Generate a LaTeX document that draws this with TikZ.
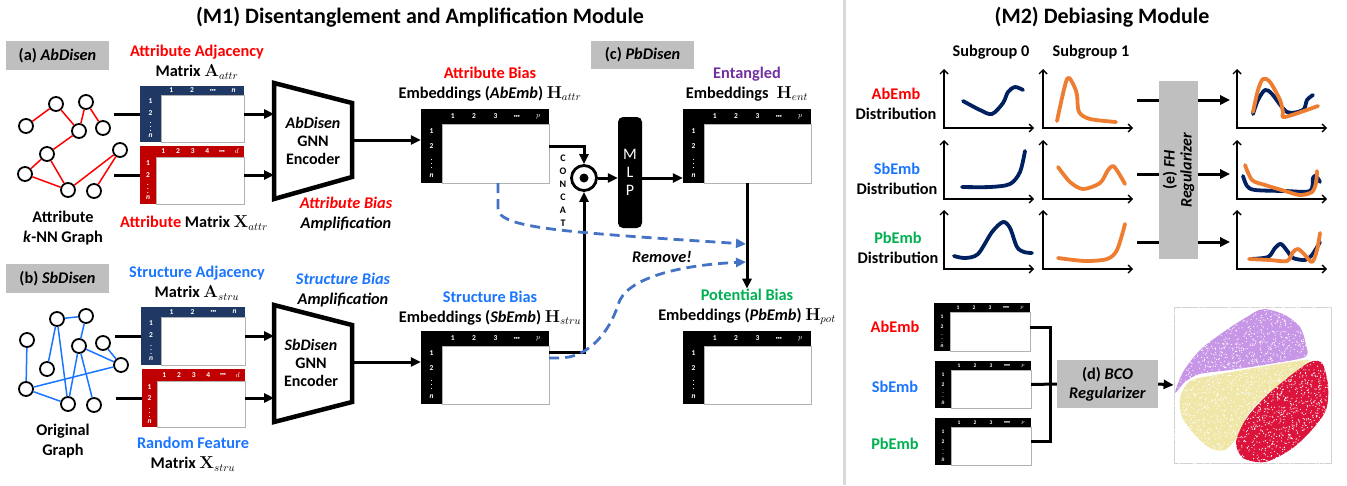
\documentclass[tikz,border=0pt]{standalone}
\usepackage[no-math]{fontspec}
\setmainfont{Carlito}
\usetikzlibrary{arrows.meta,positioning,fit,calc}

\definecolor{attrred}{HTML}{FF0000}
\definecolor{strublue}{HTML}{1A75FF}
\definecolor{potgreen}{HTML}{00B050}
\definecolor{entpurple}{HTML}{7030A0}
\definecolor{navyhead}{HTML}{203864}
\definecolor{redhead}{HTML}{C00000}
\definecolor{boxgray}{HTML}{BFBFBF}
\definecolor{dashblue}{HTML}{4472C4}
\definecolor{curvenavy}{HTML}{002060}
\definecolor{curveorange}{HTML}{ED7D31}
\definecolor{tsnepurple}{HTML}{C896E6}
\definecolor{tsneyellow}{HTML}{EFE6A8}
\definecolor{tsnered}{HTML}{DC143C}

\tikzset{
  lbl/.style={font=\fontsize{16.3}{20}\selectfont\bfseries, align=center, inner sep=0pt},
  ilbl/.style={lbl, font=\fontsize{16.3}{20}\selectfont\bfseries\itshape},
  titlelbl/.style={font=\fontsize{22}{26}\selectfont\bfseries, inner sep=0pt},
  tagbox/.style={fill=boxgray, font=\fontsize{16.3}{19}\selectfont\bfseries, align=center, inner sep=0pt},
  gnode/.style={circle, draw, fill=white, line width=1.8pt, minimum size=14pt, inner sep=0pt},
  matnum/.style={text=white, font=\fontsize{7.5}{8}\selectfont\bfseries, inner sep=0pt},
  flow/.style={line width=3pt, -{Triangle[length=10pt,width=9pt]}},
  plainline/.style={line width=3pt},
  encoder/.style={line width=4.5pt, line join=miter},
  rmv/.style={dashblue, line width=2.8pt, dash pattern=on 10pt off 6pt, -{Triangle[length=10pt,width=9pt]}},
  axes/.style={line width=1.4pt, {Straight Barb[length=4pt,width=8pt]}-{Straight Barb[length=4pt,width=8pt]}},
  dist/.style={line width=3.8pt, line cap=round, line join=round},
}

\newcommand{\hdots}{{\fontsize{4}{4}\selectfont\textbullet\textbullet\textbullet}}

% name, x1, y1, x2, y2, header colour, header height, left width, column labels
\newcommand{\embmat}[9]{%
  \node[fit={(#2,#3) (#4,#5)}, inner sep=0pt, fill=#6] (#1) {};
  \filldraw[fill=white, draw=gray!60, line width=0.8pt] (#2+#8,#3+#7) rectangle (#4,#5);
  \foreach \lab [count=\k] in {#9} {\xdef\ncols{\k}}
  \foreach \lab [count=\k] in {#9} {
    \pgfmathsetmacro\cx{#2+#8+(\k-0.5)*(#4-#2-#8)/\ncols}
    \node[matnum] at (\cx,#3+#7/2) {\lab};}
  \foreach \lab [count=\k] in {1,2,$\vdots$,\textit{n}} {
    \pgfmathsetmacro\cy{#3+#7+(\k-0.5)*(#5-#3-#7)/4}
    \node[matnum] at (#2+#8/2,\cy) {\lab};}
}

\begin{document}
\begin{tikzpicture}[x=1pt, y=-1pt]
\useasboundingbox (0,0) rectangle (1347,485);

% titles and separator
\node[titlelbl] (m1title) at (420,17) {(M1) Disentanglement and Amplification Module};
\node[titlelbl] (m2title) at (1102,17) {(M2) Debiasing Module};
\fill[gray!30] (843,0) rectangle (846,485);

\node[tagbox, minimum width=103pt, minimum height=29pt] (taga) at (57.5,55.5) {(a) \textit{AbDisen}};
\node[tagbox, minimum width=103pt, minimum height=29pt] (tagb) at (57.5,278.5) {(b) \textit{SbDisen}};
\node[tagbox, minimum width=103pt, minimum height=28pt] (tagc) at (642.5,55) {(c) \textit{PbDisen}};

% attribute k-NN graph
\foreach \n/\x/\y in {a1/26/126, a2/56/104, a3/86/102, a4/79/131, a5/103/128,
    a6/47/154, a7/120/150, a8/25/174, a9/68/190, a10/94/191}
  \node[gnode] (\n) at (\x,\y) {};
\foreach \s/\t in {a1/a2, a2/a4, a3/a4, a3/a5, a4/a6, a6/a8, a6/a9, a8/a9, a9/a7, a7/a10}
  \draw[attrred, line width=1.5pt] (\s) -- (\t);
\node[lbl] (glaba) at (63,228) {Attribute\\\textit{k}-NN Graph};

% original graph
\foreach \n/\x/\y in {b1/27/340, b2/57/319, b3/86/316, b4/79/346, b5/103/343,
    b6/47/369, b7/121/365, b8/26/389, b9/68/404, b10/94/405}
  \node[gnode] (\n) at (\x,\y) {};
\foreach \s/\t in {b1/b8, b2/b3, b2/b6, b2/b9, b3/b4, b4/b9, b4/b7, b5/b7, b4/b10, b8/b7, b8/b9}
  \draw[strublue, line width=1.5pt] (\s) -- (\t);
\node[lbl] (glabb) at (63,441) {Original\\Graph};

% input matrices
\embmat{aattr}{140}{86}{244}{142}{navyhead}{9}{21}{1,2,\hdots,\textit{n}}
\embmat{xattr}{140}{146}{244}{204}{redhead}{11}{16}{1,2,3,4,\hdots,$d$}
\embmat{astru}{141}{307}{245}{365}{navyhead}{10}{20}{1,2,\hdots,\textit{n}}
\embmat{xstru}{142}{369}{245}{427}{redhead}{12}{15}{1,2,3,4,\hdots,$d$}
\node[lbl] (aattrlab) at (197,62) {\textcolor{attrred}{Attribute Adjacency}\\Matrix $\mathbf{A}_{attr}$};
\node[lbl] (xattrlab) at (194,223) {\textcolor{attrred}{Attribute} Matrix $\mathbf{X}_{attr}$};
\node[lbl] (astrulab) at (197,283) {\textcolor{strublue}{Structure Adjacency}\\Matrix $\mathbf{A}_{stru}$};
\node[lbl] (xstrulab) at (193,454) {\textcolor{strublue}{Random Feature}\\Matrix $\mathbf{X}_{stru}$};

% encoders
\coordinate (ea1) at (274,83); \coordinate (ea2) at (352,103);
\coordinate (ea3) at (352,177); \coordinate (ea4) at (274,199);
\draw[encoder] (ea1) -- (ea2) -- (ea3) -- (ea4) -- cycle;
\node[lbl, font=\fontsize{16}{18}\selectfont\bfseries] (enca) at (313,141) {\textit{AbDisen}\\GNN\\Encoder};
\coordinate (eb1) at (274,305); \coordinate (eb2) at (352,325);
\coordinate (eb3) at (352,402); \coordinate (eb4) at (274,422);
\draw[encoder] (eb1) -- (eb2) -- (eb3) -- (eb4) -- cycle;
\node[lbl, font=\fontsize{16}{18}\selectfont\bfseries] (encb) at (311,363) {\textit{SbDisen}\\GNN\\Encoder};
\node[ilbl] (ampa) at (346,214) {\textcolor{attrred}{Attribute Bias}\\Amplification};
\node[ilbl] (ampb) at (343,290) {\textcolor{strublue}{Structure Bias}\\Amplification};

\foreach \m in {aattr, xattr, astru, xstru} {
  \draw[plainline] ([xshift=-26pt]\m.west) -- (\m.west);
}
\draw[flow] (aattr.east) -- (aattr.east -| ea1);
\draw[flow] (xattr.east) -- (xattr.east -| ea1);
\draw[flow] (astru.east) -- (astru.east -| eb1);
\draw[flow] (xstru.east) -- (xstru.east -| eb1);

% embeddings
\embmat{ha}{421}{109}{549}{183}{black}{15}{21}{1,2,3,\hdots,$p$}
\embmat{hs}{421}{331}{549}{404}{black}{15}{21}{1,2,3,\hdots,$p$}
\embmat{he}{683}{109}{811}{183}{black}{15}{21}{1,2,3,\hdots,$p$}
\embmat{hp}{683}{331}{811}{404}{black}{15}{21}{1,2,3,\hdots,$p$}
\node[lbl] (halab) at (490,84) {\textcolor{attrred}{Attribute Bias}\\Embeddings (\textit{AbEmb}) $\mathbf{H}_{attr}$};
\node[lbl] (hslab) at (490,308) {\textcolor{strublue}{Structure Bias}\\Embeddings (\textit{SbEmb}) $\mathbf{H}_{stru}$};
\node[lbl] (helab) at (747,84) {\textcolor{entpurple}{Entangled}\\Embeddings\enspace$\mathbf{H}_{ent}$};
\node[lbl] (hplab) at (747,307) {\textcolor{potgreen}{Potential Bias}\\Embeddings (\textit{PbEmb}) $\mathbf{H}_{pot}$};

\coordinate (eaout) at (352,140);
\coordinate (ebout) at (352,362);
\draw[flow] (eaout) -- (eaout -| ha.west);
\draw[flow] (ebout) -- (ebout -| hs.west);

% concat and MLP
\node[circle, draw, line width=2.8pt, minimum size=25pt, inner sep=0pt] (cat) at (584,178) {};
\fill (cat.center) circle (4.5);
\node[font=\fontsize{10}{13}\selectfont\bfseries, align=center, inner sep=0pt] (catlab) at (563,191) {C\\O\\N\\C\\A\\T};
\node[fill=black, rounded corners=5pt, minimum width=24pt, minimum height=111pt, text=white,
  align=center, font=\fontsize{16}{18}\selectfont] (mlp) at (630,172.5) {M\\L\\P};
\draw[flow] (ha.east) -| (cat.north);
\draw[flow] ($(hs.north east)!0.3!(hs.south east)$) -| (cat.south);
\draw[flow] (cat.east) -- (cat.east -| mlp.west);
\draw[flow] (mlp.east |- cat) -- (he.west |- cat);
\draw[flow] (he.south) -- (hplab.north);

% removal
\coordinate (rm1) at (746,244);
\coordinate (rm2) at (746,262);
\draw[rmv] ([xshift=13pt]ha.south) -- ++(0,25) .. controls (498,228) and (560,232) .. (rm1);
\draw[rmv] ($(hs.north east)!0.37!(hs.south east)$) -- ++(10,0) .. controls (590,358) and (610,330) .. (618,305)
  .. controls (625,278) and (680,265) .. (rm2);
\node[ilbl] (rmvlab) at (662,257) {Remove!};

% M2: distributions
\node[lbl] (sg0) at (991,52) {Subgroup 0};
\node[lbl] (sg1) at (1091,52) {Subgroup 1};
\node[lbl] (dab) at (896,104) {\textcolor{attrred}{AbEmb}\\Distribution};
\node[lbl] (dsb) at (897,179) {\textcolor{strublue}{SbEmb}\\Distribution};
\node[lbl] (dpb) at (898,248) {\textcolor{potgreen}{PbEmb}\\Distribution};
\foreach \oy in {128,199,269}
  \foreach \ox in {944,1043,1237}
    \draw[axes] (\ox,\oy-59) -- (\ox,\oy) -- (\ox+90,\oy);

\draw[dist, curvenavy] plot[smooth] coordinates {(963,101) (980,110) (992,114) (1003,103) (1008,92) (1015,87) (1023,90)};
\draw[dist, curveorange] plot[smooth] coordinates {(1057,121) (1067,79) (1074,86) (1077,95) (1079,112) (1090,119) (1116,122)};
\draw[dist, curvenavy] plot[smooth] coordinates {(962,187) (990,187) (1010,184) (1020,172) (1025,151)};
\draw[dist, curveorange] plot[smooth] coordinates {(1058,167) (1070,182) (1083,189) (1100,183) (1108,170) (1113,166) (1118,172) (1125,184)};
\draw[dist, curvenavy] plot[smooth] coordinates {(954,256) (965,258) (978,254) (992,232) (1003,222) (1010,228) (1017,247) (1024,252) (1032,253)};
\draw[dist, curveorange] plot[smooth] coordinates {(1058,258) (1085,261) (1107,259) (1117,250) (1125,224)};

\draw[dist, curvenavy] plot[smooth] coordinates {(1253,114) (1258,100) (1265,90) (1272,94) (1287,112) (1303,110) (1307,100) (1313,95)};
\draw[dist, curveorange] plot[smooth] coordinates {(1253,112) (1258,90) (1263,79) (1270,82) (1280,100) (1283,112) (1285,117) (1318,106)};
\draw[dist, curvenavy] plot[smooth] coordinates {(1243,176) (1247,186) (1255,190) (1285,191) (1310,191) (1313,178) (1316,176) (1320,182)};
\draw[dist, curveorange] plot[smooth] coordinates {(1245,165) (1252,180) (1265,185) (1285,191) (1300,195) (1312,192) (1316,183) (1317,171)};
\draw[dist, curvenavy] plot[smooth] coordinates {(1250,259) (1268,257) (1275,248) (1281,244) (1288,252) (1293,258) (1305,260) (1312,255) (1320,242)};
\draw[dist, curveorange] plot[smooth] coordinates {(1249,259) (1270,260) (1287,261) (1293,252) (1298,249) (1304,254) (1312,262) (1317,250) (1320,233)};

% rotated box: north is on the left, south on the right
\node[tagbox, rotate=90, minimum width=178pt, minimum height=39pt, font=\fontsize{16}{17}\selectfont\bfseries] (fh) at (1178.5,170) {(e) \textit{FH}\\\textit{Regularizer}};
\foreach \ry [count=\i] in {100,174,242} {
  \coordinate (fhin\i) at (1137,\ry);
  \draw[plainline] (fhin\i) -- (fhin\i -| fh.north);
  \draw[flow] (fhin\i -| fh.south) -- ++(32,0);
}

% M2: orthogonality
\begin{scope}[matnum/.append style={font=\fontsize{5.5}{6}\selectfont\bfseries}]
\embmat{abm}{934}{303}{1030}{351}{black}{9}{16}{1,2,3,\hdots,$p$}
\embmat{sbm}{935}{361}{1031}{408}{black}{9}{16}{1,2,3,\hdots,$p$}
\embmat{pbm}{935}{418}{1031}{465}{black}{9}{16}{1,2,3,\hdots,$p$}
\end{scope}
\node[lbl, text=attrred] (ablab) at (895,327) {AbEmb};
\node[lbl, text=strublue] (sblab) at (895,387) {SbEmb};
\node[lbl, text=potgreen] (pblab) at (895,444) {PbEmb};
\node[tagbox, minimum width=101pt, minimum height=48pt] (bco) at (1107.5,384) {(d) \textit{BCO}\\\textit{Regularizer}};
\coordinate (bjoin) at ($(sbm.east)+(19,0)$);
\draw[plainline] (abm.east) -| (bjoin) |- (pbm.east);
\draw[plainline] (sbm.east) -- (bco.west);

\node[draw=gray!35, line width=0.8pt, minimum width=157pt, minimum height=156pt, inner sep=0pt] (tsne) at (1252.5,385) {};
\draw[flow] (bco.east) -- (tsne.west);
\fill[tsnepurple] plot[smooth cycle] coordinates {(1175,393) (1183,372) (1200,350) (1222,333) (1245,318) (1263,309)
  (1285,315) (1300,327) (1306,345) (1305,357) (1270,364) (1230,370) (1200,374) (1185,382)};
\fill[tsneyellow] plot[smooth cycle] coordinates {(1180,398) (1190,381) (1215,375) (1260,367) (1305,360) (1308,363)
  (1290,378) (1265,396) (1248,415) (1237,437) (1225,450) (1210,448) (1195,435) (1182,417)};
\fill[tsnered] plot[smooth cycle] coordinates {(1310,362) (1322,363) (1328,385) (1326,410) (1310,432) (1290,450)
  (1265,462) (1243,458) (1236,442) (1246,419) (1265,397) (1290,376)};
\pgfmathsetseed{7}
\foreach \i in {1,...,2500}
  \fill[white] ({1252+78*rand},{385+79*rand}) circle (0.6);
\end{tikzpicture}
\end{document}
